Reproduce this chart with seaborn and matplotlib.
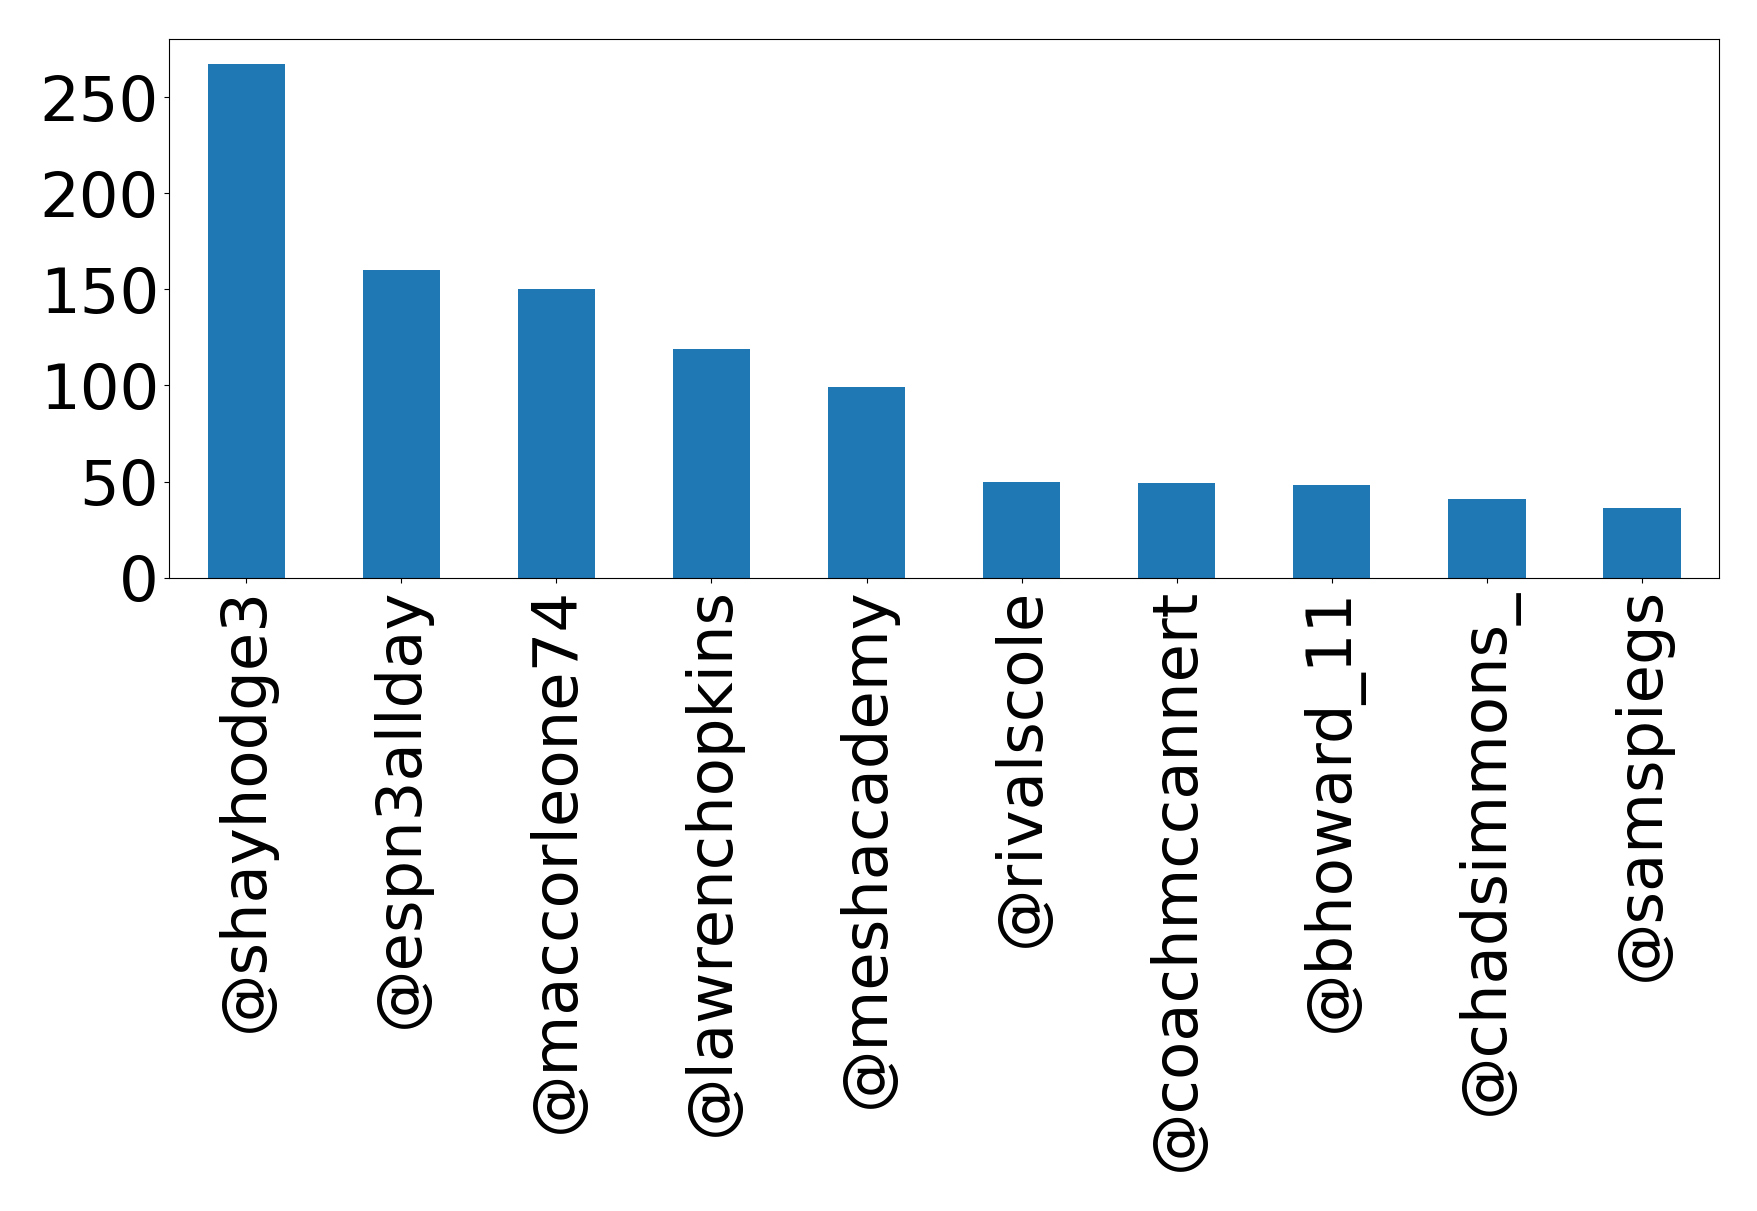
import pandas as pd
import matplotlib
matplotlib.use("Agg")
import matplotlib.pyplot as plt
import seaborn as sns

# Top accounts by count
accounts = ["@shayhodge3", "@espn3allday", "@maccorleone74", "@lawrenchopkins",
            "@meshacademy", "@rivalscole", "@coachmccannert", "@bhoward_11",
            "@chadsimmons_", "@samspiegs"]
counts = [267, 160, 150, 119, 99, 50, 49, 48, 41, 36]

df = pd.DataFrame({"account": accounts, "count": counts})

fig = plt.figure(figsize=(17.58, 12.11), dpi=100)
ax = fig.add_axes([0.096, 0.523, 0.882, 0.445])
sns.barplot(x="account", y="count", data=df, color="#1f77b4",
            saturation=1, width=0.5, ax=ax)
ax.set_xlabel("")
ax.set_ylabel("")
ax.set_yticks([0, 50, 100, 150, 200, 250])
ax.tick_params(axis="both", labelsize=45)
ax.tick_params(axis="x", labelrotation=90)

fig.savefig("out.png", dpi=100)
